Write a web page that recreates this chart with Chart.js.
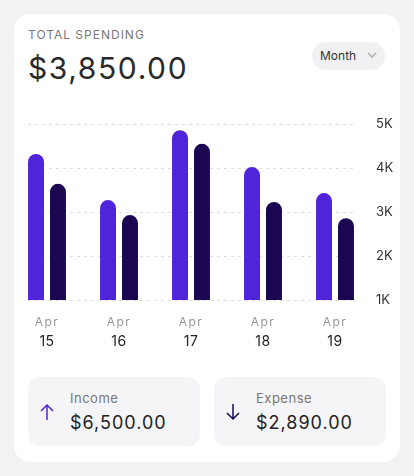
<!DOCTYPE html>
<html><head><meta charset="utf-8">
<script src="https://cdn.jsdelivr.net/npm/chart.js@4"></script>
<style>
  body{margin:0;background:#f2f2f4;font-family:Inter,"Noto Sans",sans-serif;width:414px;height:476px;overflow:hidden}
  .card{position:absolute;left:14px;top:14px;width:386px;height:448px;background:#fff;border-radius:16px}
  .title{position:absolute;left:28px;top:27px;font-size:12px;letter-spacing:1px;color:#777}
  .total{position:absolute;left:28px;top:50px;font-size:30px;letter-spacing:1.6px;color:#2a2a2a}
  .pill{position:absolute;left:312px;top:42px;width:73px;height:28px;border-radius:14px;background:#f1f1f3;font-size:12px;color:#333;line-height:28px;padding-left:8px;box-sizing:border-box}
  .pill svg{position:absolute;right:8px;top:10px}
  .box{position:absolute;top:377px;width:172px;height:69px;background:#f5f5f7;border-radius:12px}
  .box .lbl{position:absolute;left:42px;top:13px;font-size:13px;color:#777;letter-spacing:.5px}
  .box .val{position:absolute;left:42px;top:35px;font-size:18px;color:#222;letter-spacing:1px}
  .box svg{position:absolute;left:12px;top:26px}
  #wrap{position:absolute;left:0;top:100px;width:414px;height:260px}
</style></head>
<body>
<div class="card"></div>
<div class="title">TOTAL SPENDING</div>
<div class="total">$3,850.00</div>
<div class="pill">Month<svg width="10" height="7"><path d="M1 1l4 4 4-4" stroke="#aaa" fill="none" stroke-width="1.3"/></svg></div>
<div id="wrap"><canvas id="c"></canvas></div>
<div class="box" style="left:28px"><svg width="14" height="18"><path d="M7 17V2M1 8l6-6 6 6" stroke="#5024db" fill="none" stroke-width="1.5"/></svg><div class="lbl">Income</div><div class="val">$6,500.00</div></div>
<div class="box" style="left:214px"><svg width="14" height="18"><path d="M7 1v15M1 10l6 6 6-6" stroke="#1b0652" fill="none" stroke-width="1.5"/></svg><div class="lbl">Expense</div><div class="val">$2,890.00</div></div>
<script>
const months = ["Apr", "Apr", "Apr", "Apr", "Apr"];
const days = ["15", "16", "17", "18", "19"];
const income = [4320, 3270, 4860, 4020, 3430];
const expense = [3640, 2930, 4550, 3230, 2860];
const yTicks = [1000, 2000, 3000, 4000, 5000];

// dashed grid from first bar to last bar, plus two-line date labels
const extras = {
  id: "extras",
  beforeDatasetsDraw(chart){
    const { ctx, scales: { y } } = chart;
    ctx.save();
    ctx.strokeStyle = "#dedede";
    ctx.lineWidth = 1.2;
    ctx.setLineDash([3, 4]);
    for (const t of yTicks){
      const py = Math.round(y.getPixelForValue(t)) + 0.5;
      ctx.beginPath(); ctx.moveTo(28, py); ctx.lineTo(353, py); ctx.stroke();
    }
    ctx.restore();
  },
  afterDraw(chart){
    const { ctx, scales: { x, y } } = chart;
    const base = y.getPixelForValue(1000);
    ctx.save();
    ctx.textAlign = "center";
    days.forEach((d, i) => {
      const px = x.getPixelForValue(i);
      ctx.font = "12px Inter, sans-serif";
      ctx.fillStyle = "#999";
      ctx.letterSpacing = "1.5px";
      ctx.fillText(months[i], px, base + 26);
      ctx.font = "14px Inter, sans-serif";
      ctx.fillStyle = "#222";
      ctx.letterSpacing = "0.5px";
      ctx.fillText(d, px, base + 46);
    });
    ctx.restore();
  }
};

new Chart(document.getElementById("c"), {
  type: "bar",
  data: {
    labels: days,
    datasets: [
      { label: "Income", data: income, backgroundColor: "#5024db" },
      { label: "Expense", data: expense, backgroundColor: "#1b0652" }
    ]
  },
  options: {
    responsive: true,
    maintainAspectRatio: false,
    animation: false,
    layout: { padding: { left: 11, right: 0, top: 24, bottom: 52 } },
    datasets: { bar: { categoryPercentage: 0.61, barPercentage: 0.727, borderRadius: 8, borderSkipped: "bottom" } },
    plugins: { legend: { display: false }, tooltip: { enabled: false } },
    scales: {
      x: { offset: true, grid: { display: false }, border: { display: false }, ticks: { display: false } },
      y: {
        position: "right", min: 1000, max: 5000,
        grid: { display: false }, border: { display: false },
        afterBuildTicks: (s) => { s.ticks = yTicks.map(v => ({ value: v })); },
        afterFit: (s) => { s.width = 43; },
        ticks: { padding: -3, color: "#333", font: { size: 13, family: "Inter" }, callback: v => (v / 1000) + "K" }
      }
    }
  },
  plugins: [extras]
});
</script>
</body></html>
